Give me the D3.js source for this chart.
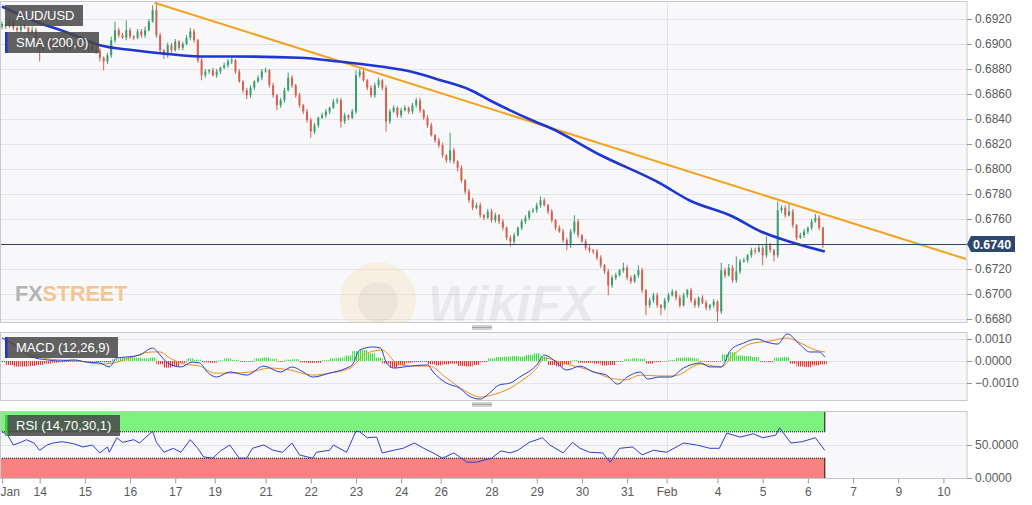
<!DOCTYPE html>
<html>
<head>
<meta charset="utf-8">
<script src="https://cdn.jsdelivr.net/npm/d3@7"></script>
<style>
  body { margin: 0; background: #fff; }
  svg { display: block; font-family: "Liberation Sans", Arial, sans-serif; }
</style>
</head>
<body>
<svg id="chart"></svg>
<script>
// AUD/USD hourly chart, drawn as 2-hour bars (open = previous close)

let firstOpen = 0.6914
let barStep = 2
let closes = [
  0.6916,0.6914,0.6918,0.6913,0.6911,0.6914,0.6913,0.6909,0.6911,0.6905,
  0.6895,0.6899,0.6902,0.6898,0.6900,0.6897,0.6899,0.6895,0.6898,0.6900,
  0.6897,0.6898,0.6895,0.6898,0.6894,0.6895,0.6889,0.6886,0.6891,0.6903,
  0.6911,0.6907,0.6905,0.6911,0.6906,0.6905,0.6910,0.6907,0.6911,0.6918,
  0.6927,0.6907,0.6895,0.6891,0.6899,0.6895,0.6902,0.6897,0.6900,0.6905,
  0.6910,0.6903,0.6887,0.6875,0.6878,0.6879,0.6875,0.6878,0.6881,0.6883,
  0.6886,0.6887,0.6878,0.6870,0.6863,0.6859,0.6865,0.6870,0.6873,0.6878,
  0.6879,0.6867,0.6859,0.6851,0.6855,0.6863,0.6873,0.6867,0.6859,0.6851,
  0.6846,0.6839,0.6830,0.6835,0.6841,0.6843,0.6846,0.6849,0.6854,0.6855,
  0.6838,0.6843,0.6841,0.6846,0.6875,0.6878,0.6871,0.6865,0.6859,0.6867,
  0.6871,0.6865,0.6838,0.6846,0.6849,0.6843,0.6847,0.6849,0.6846,0.6851,
  0.6855,0.6847,0.6841,0.6835,0.6827,0.6823,0.6819,0.6811,0.6807,0.6815,
  0.6806,0.6801,0.6791,0.6782,0.6775,0.6769,0.6771,0.6763,0.6761,0.6766,
  0.6759,0.6763,0.6758,0.6753,0.6745,0.6742,0.6747,0.6753,0.6758,0.6761,
  0.6766,0.6767,0.6771,0.6775,0.6771,0.6766,0.6759,0.6753,0.6750,0.6743,
  0.6739,0.6750,0.6758,0.6747,0.6742,0.6737,0.6735,0.6734,0.6729,0.6723,
  0.6718,0.6707,0.6713,0.6715,0.6719,0.6721,0.6713,0.6710,0.6715,0.6719,
  0.6703,0.6691,0.6695,0.6699,0.6691,0.6689,0.6695,0.6699,0.6702,0.6697,
  0.6691,0.6699,0.6703,0.6695,0.6691,0.6697,0.6693,0.6689,0.6691,0.6694,
  0.6686,0.6719,0.6715,0.6721,0.6711,0.6718,0.6726,0.6727,0.6731,0.6735,
  0.6734,0.6737,0.6731,0.6739,0.6735,0.6731,0.6767,0.6769,0.6763,0.6766,
  0.6755,0.6745,0.6747,0.6750,0.6753,0.6758,0.6761,0.6753,0.6740
]
// wick lengths beyond the body, in pips
let upWick = [
  2,1,3,2,1,2,2,1,3,2, 1,2,2,1,2,2,1,2,2,1, 2,2,1,2,2,1,2,1,2,3,
  7,2,2,8,2,1,2,2,3,2, 4,7,2,1,2,2,2,1,2,2, 3,2,1,2,2,1,2,2,1,2,
  2,2,1,2,1,2,2,1,2,2, 2,1,2,1,2,2,4,2,1,2, 1,2,2,2,1,2,2,1,2,2,
  2,2,1,2,4,2,2,1,2,2, 2,1,2,2,2,1,2,2,1,2, 2,2,1,2,2,1,2,2,1,14,
  2,1,2,1,2,2,2,2,1,2, 2,2,1,2,1,2,2,1,2,2, 1,2,2,3,2,1,2,1,2,2,
  2,2,5,2,1,2,2,1,2,2, 1,2,2,2,1,4,2,2,1,4, 2,1,2,2,2,1,2,2,2,1,
  2,2,1,2,2,1,2,2,1,2, 1,6,2,3,2,12,2,2,1,2, 2,2,2,7,2,1,7,2,2,6,
  2,1,2,2,1,2,3,2,1
]
let dnWick = [
  2,2,1,2,3,2,1,2,2,3, 9,2,1,2,2,1,2,2,1,2, 2,1,2,2,1,2,3,7,2,2,
  2,2,1,2,2,2,1,2,2,1, 1,2,2,3,2,2,1,2,2,1, 2,2,2,4,2,2,1,2,2,1,
  2,2,2,1,2,3,2,2,1,2, 1,2,2,4,2,2,1,2,2,2, 2,2,5,2,2,1,2,2,1,2,
  5,2,2,1,2,2,1,2,2,2, 2,2,8,2,1,2,2,1,2,2, 2,2,2,2,1,2,2,2,2,2,
  2,3,2,2,2,2,1,2,2,1, 2,2,2,2,2,4,2,1,2,2, 2,1,2,2,1,2,2,2,1,2,
  4,2,2,2,1,2,2,2,2,2, 2,8,2,2,1,2,2,2,1,2, 2,8,2,2,2,6,2,2,1,2,
  2,1,2,2,2,2,1,2,2,2, 8,2,2,1,2,2,2,1,2,2, 2,1,8,2,2,5,2,2,2,1,
  2,2,1,2,2,2,1,2,3
]

// [hour index, value]
let smaPoints = [[0,0.6930],[16,0.6919],[35,0.6909],[52,0.6899],[70,0.6895],[88,0.6892],
  [105,0.6890],[123,0.6890],[158,0.6889],[179,0.6886],[201,0.6882],[217,0.6878],[233,0.6871],
  [249,0.6863],[259,0.6855],[283,0.6838],[291,0.6833],[318,0.6811],[349,0.6789],[365,0.6775],
  [388,0.6762],[403,0.6750],[418,0.6742],[437,0.6734]]
let trendPoints = [[81,0.6933],[512,0.6728]]
let lastPrice = 0.6740

let macdLine = [[0,0.00105],[4,0.00086],[10,0.0005],[16,0.00018],[24,0.00005],[31,0],[38,0.00005],
  [45,-0.00005],[52,-0.00009],[57,-0.00027],[61,0.00014],[66,0.00018],[73,0.00027],[80,0.00059],
  [84,0.00027],[88,-0.00009],[95,-0.00027],[101,-0.00005],[105,-0.00009],[109,-0.0005],[114,-0.00073],
  [121,-0.0005],[130,-0.00064],[139,-0.00023],[148,-0.0005],[154,-0.00027],[160,-0.0005],[165,-0.00073],
  [174,-0.00055],[183,-0.00032],[186,-0.00018],[190,0.0005],[197,0.00064],[201,0.00059],[204,-0.00005],
  [208,-0.00032],[217,-0.00023],[226,-0.00018],[229,-0.0005],[236,-0.001],[243,-0.00123],[249,-0.00164],
  [254,-0.00173],[259,-0.00145],[264,-0.00109],[270,-0.001],[275,-0.00073],[284,-0.00018],[288,0.00027],
  [293,0.00005],[300,-0.00041],[307,-0.00023],[314,-0.0005],[321,-0.00064],[327,-0.00105],[332,-0.00073],
  [339,-0.0005],[343,-0.00082],[349,-0.00073],[355,-0.00073],[362,-0.00032],[371,-0.00009],[376,-0.00027],
  [382,-0.00027],[387,0.0005],[394,0.00082],[401,0.001],[406,0.00086],[412,0.00077],[417,0.00123],
  [424,0.00073],[429,0.00041],[434,0.00041],[437,0.00018]]
let signalLine = [[0,0.00105],[7,0.00073],[15,0.00032],[25,0.00009],[41,0],[52,-0.00014],[59,-0.00009],
  [68,0.00014],[79,0.00041],[84,0.00041],[89,0.00014],[97,-0.00014],[105,-0.00023],[113,-0.00055],
  [121,-0.00055],[132,-0.0005],[142,-0.00032],[153,-0.00041],[165,-0.00064],[174,-0.00055],[185,-0.00032],
  [193,0.00032],[202,0.0005],[209,-0.00005],[217,-0.00023],[227,-0.00023],[236,-0.00077],[246,-0.00136],
  [254,-0.00164],[262,-0.0015],[270,-0.00123],[275,-0.00095],[284,-0.00032],[288,0.00014],[296,-0.00005],
  [304,-0.00023],[312,-0.00041],[323,-0.00077],[331,-0.00086],[339,-0.00064],[349,-0.00068],[357,-0.00068],
  [371,-0.00014],[382,-0.00027],[389,0.00032],[397,0.00077],[408,0.00091],[417,0.00105],[424,0.00082],
  [432,0.0005],[437,0.00041]]
let histStep = 4
let histValues = [
  -0.00005,-0.00018,-0.00025,-0.00025,-0.00022,-0.00018,-0.00012,-0.00008,-0.00005,-0.00004,
  -0.00003,-0.00004,-0.00003,-0.00005,-0.00006,0.00008,0.00015,0.00018,0.00015,0.00012,
  0.00016,-0.00015,-0.0003,-0.00025,-0.00008,0.00012,0.00006,-0.00006,-0.00008,0.00003,
  0.00012,0.00005,-0.00004,-0.00003,0.00012,0.00016,0.0001,-0.00004,0.00006,0.00008,
  -0.00006,-0.00009,-0.00008,0.00004,0.00012,0.00015,0.00025,0.00045,0.0005,0.00035,
  0.00015,-0.00012,-0.0003,-0.0002,-0.00008,-0.00005,-0.00004,-0.00015,-0.0002,-0.00015,
  -0.00012,-0.00022,-0.00025,-0.00018,-0.00005,0.00012,0.00018,0.0002,0.00022,0.0002,
  0.00028,0.00035,0.0002,-0.00018,-0.00025,-0.00015,0.00004,-0.00008,-0.00008,-0.00012,
  -0.0002,-0.00018,-0.00003,0.00008,0.00012,0.0001,-0.00012,-0.00005,-0.00002,0.00005,
  0.00014,0.00016,0.00012,-0.00003,-0.00004,-0.00003,0.0003,0.0004,0.00025,0.00022,
  0.00018,-0.00004,-0.00005,0.00015,0.00018,-0.00012,-0.00025,-0.00028,-0.0002,-0.00015
]
let rsiLine = [[0,70],[3,65],[6,50],[10,54],[13,58],[17,53],[20,42],[24,50],[27,53],[32,55],[38,52],
  [43,47],[48,50],[52,38],[56,47],[57,39],[61,61],[64,54],[70,58],[73,53],[80,71],[82,54],[86,39],
  [91,45],[95,39],[100,58],[104,45],[107,32],[112,30],[116,41],[121,50],[126,30],[130,30],[133,45],
  [139,50],[144,42],[149,39],[154,53],[158,35],[162,32],[165,30],[167,39],[174,42],[176,50],[183,39],
  [188,71],[190,70],[194,61],[199,62],[202,38],[208,42],[213,45],[219,53],[224,45],[229,38],[234,30],
  [240,38],[247,24],[252,24],[260,30],[265,41],[270,38],[274,42],[280,54],[287,61],[291,50],[298,38],
  [303,54],[307,45],[312,39],[319,38],[323,24],[328,45],[335,47],[340,35],[346,42],[353,39],[362,53],
  [369,50],[376,45],[381,45],[385,68],[392,62],[399,67],[404,61],[411,65],[413,76],[419,53],[425,55],
  [432,61],[437,42]]

let dayLabels = ["Jan","14","15","16","17","19","21","22","23","24","26","28","29","30","31","Feb","4","5","6","7","9","10"]
let dayIndex = [0,20,44,68,92,113,140,164,188,212,233,260,284,308,332,353,380,404,428,452,476,500]
let febIndex = 353
let priceTicks = [0.6680,0.6700,0.6720,0.6740,0.6760,0.6780,0.6800,0.6820,0.6840,0.6860,0.6880,0.6900,0.6920]
let macdTicks = [0.001, 0, -0.001]
let rsiTicks = [50, 0]
let rsiUpper = 70
let rsiLower = 30

let width = 1032
let height = 505
let plotRight = 967
let pip = 0.0001
let dataEnd = 437

let main = { top: 1.5, bottom: 322.5 }
let macdPanel = { top: 332.5, bottom: 400.5 }
let rsiPanel = { top: 411.5, bottom: 478.5 }

let svg = d3.select("#chart").attr("width", width).attr("height", height)
let defs = svg.append("defs")

let xScale = d3.scaleLinear().domain([0, 512]).range([2, 966])
let yPrice = d3.scaleLinear().domain([0.6680, 0.6920]).range([319, 19])
let yMacd = d3.scaleLinear().domain([-0.001, 0.001]).range([383, 339])
let yRsi = d3.scaleLinear().domain([0, 100]).range([478, 412])

let drawPanel = (panel, id, ticks, yScale) => {
  defs.append("clipPath").attr("id", id)
      .append("rect").attr("x", 0).attr("y", panel.top)
      .attr("width", plotRight).attr("height", panel.bottom - panel.top)
  svg.append("rect")
     .attr("x", 0.5).attr("y", panel.top)
     .attr("width", plotRight - 0.5).attr("height", panel.bottom - panel.top)
     .attr("fill", "#f8f8fa")
  let g = svg.append("g").attr("clip-path", "url(#" + id + ")")
  g.selectAll("line.grid").data(ticks).enter().append("line")
   .attr("class", "grid")
   .attr("x1", 0).attr("x2", plotRight)
   .attr("y1", d => Math.round(yScale(d)) + 0.5).attr("y2", d => Math.round(yScale(d)) + 0.5)
   .attr("stroke", "#e4e4e8")
  g.append("line")
   .attr("x1", Math.round(xScale(febIndex)) + 0.5).attr("x2", Math.round(xScale(febIndex)) + 0.5)
   .attr("y1", panel.top).attr("y2", panel.bottom)
   .attr("stroke", "#e4e4e8")
  return g
}

let drawFrame = (panel) => {
  svg.append("rect")
     .attr("x", 0.5).attr("y", panel.top)
     .attr("width", plotRight - 0.5).attr("height", panel.bottom - panel.top)
     .attr("fill", "none").attr("stroke", "#c8c8d2")
}

// hidden: tick whose text is covered by the last-price box
let drawYAxis = (ticks, yScale, hidden) => {
  let axis = d3.axisRight(yScale).tickValues(ticks).tickSize(5).tickPadding(3)
               .tickFormat(d3.format(".4f"))
  let g = svg.append("g").attr("transform", "translate(" + plotRight + ",0)").call(axis)
  g.select(".domain").remove()
  g.selectAll("line").attr("stroke", "#9a9a9a")
  g.selectAll("text").attr("fill", "#5a5a5a").style("font-size", "12px")
   .style("font-family", "Liberation Sans, Arial, sans-serif")
  if (hidden !== undefined) g.selectAll("text").filter(d => d === hidden).remove()
}

let addLabel = (x, y, w, text, barColor) => {
  svg.append("rect").attr("x", x).attr("y", y).attr("width", w).attr("height", 21)
     .attr("fill", "rgb(72,72,72)").attr("fill-opacity", 0.86)
  if (barColor) {
    svg.append("rect").attr("x", x).attr("y", y).attr("width", 2.5).attr("height", 21)
       .attr("fill", barColor)
  }
  svg.append("text").attr("x", x + 11).attr("y", y + 15)
     .attr("fill", "#fff").style("font-size", "13px").text(text)
}

let drawHandle = (cy) => {
  [-1.5, 0, 1.5].forEach(dy => {
    svg.append("line").attr("x1", 472).attr("x2", 492)
       .attr("y1", cy + dy).attr("y2", cy + dy)
       .attr("stroke", "#8a8a8a").attr("stroke-width", 0.8)
  })
}

// ---------- main price panel ----------
let drawMain = () => {
  let g = drawPanel(main, "clipMain", priceTicks, yPrice)

  // watermarks
  g.append("circle").attr("cx", 378).attr("cy", 300).attr("r", 38)
   .attr("fill", "#f3d9a6").attr("fill-opacity", 0.28)
  g.append("circle").attr("cx", 378).attr("cy", 302).attr("r", 20)
   .attr("fill", "#9a9aa0").attr("fill-opacity", 0.12)
  g.append("text").attr("x", 428).attr("y", 321)
   .style("font-size", "50px").style("font-weight", "bold").style("font-style", "italic")
   .attr("fill", "#000").attr("fill-opacity", 0.06).text("WikiFX")
  let brand = g.append("text").attr("x", 15).attr("y", 301)
               .style("font-size", "21.5px").style("font-weight", "bold")
  brand.append("tspan").attr("fill", "#b4b4b4").text("FX")
  brand.append("tspan").attr("fill", "#f2c690").text("STREET")

  let bars = closes.map((c, j) => {
    let o = j ? closes[j - 1] : firstOpen
    return {
      i: j * barStep, o: o, c: c,
      h: Math.max(o, c) + upWick[j] * pip,
      l: Math.min(o, c) - dnWick[j] * pip
    }
  })
  let barColor = d => d.c > d.o ? "#3a9d6f" : (d.c < d.o ? "#d4604f" : "#222")

  g.selectAll("line.wick").data(bars).enter().append("line")
   .attr("class", "wick")
   .attr("x1", d => xScale(d.i)).attr("x2", d => xScale(d.i))
   .attr("y1", d => yPrice(d.h)).attr("y2", d => yPrice(d.l))
   .attr("stroke", barColor).attr("stroke-width", 1)
  g.selectAll("rect.body").data(bars).enter().append("rect")
   .attr("class", "body")
   .attr("x", d => xScale(d.i) - 1).attr("width", 2)
   .attr("y", d => yPrice(Math.max(d.o, d.c)))
   .attr("height", d => Math.max(1, Math.abs(yPrice(d.o) - yPrice(d.c))))
   .attr("fill", barColor)

  let line = d3.line().x(d => xScale(d[0])).y(d => yPrice(d[1]))
  g.append("path").datum(trendPoints).attr("d", line)
   .attr("fill", "none").attr("stroke", "#f6a21e").attr("stroke-width", 2)
  g.append("path").datum(smaPoints).attr("d", line.curve(d3.curveMonotoneX))
   .attr("fill", "none").attr("stroke", "#1f36d4").attr("stroke-width", 2.6)

  g.append("line").attr("x1", 0).attr("x2", plotRight)
   .attr("y1", Math.round(yPrice(lastPrice)) + 0.5).attr("y2", Math.round(yPrice(lastPrice)) + 0.5)
   .attr("stroke", "#2c4770").attr("stroke-width", 1)

  drawFrame(main)
  drawYAxis(priceTicks, yPrice, lastPrice)

  let ly = yPrice(lastPrice)
  svg.append("path")
     .attr("d", "M" + plotRight + "," + ly + " L" + (plotRight + 4) + "," + (ly - 8) +
                " L1015," + (ly - 8) + " L1015," + (ly + 8) + " L" + (plotRight + 4) + "," + (ly + 8) + "Z")
     .attr("fill", "#2c4770")
  svg.append("text").attr("x", 992).attr("y", ly + 4.5).attr("text-anchor", "middle")
     .attr("fill", "#fff").style("font-size", "12.5px").style("font-weight", "bold")
     .text(d3.format(".4f")(lastPrice))

  addLabel(5, 5, 78, "AUD/USD", null)
  addLabel(5, 32, 94, "SMA (200,0)", "#1f36d4")
}

// ---------- MACD panel ----------
let drawMacd = () => {
  [["histUp", "#33e433"], ["histDown", "#ee3030"]].forEach(([id, col]) => {
    defs.append("pattern").attr("id", id).attr("width", 2).attr("height", 4)
        .attr("patternUnits", "userSpaceOnUse")
        .append("rect").attr("width", 1.1).attr("height", 4).attr("fill", col)
  })
  let g = drawPanel(macdPanel, "clipMacd", macdTicks, yMacd)
  let hw = xScale(histStep) - xScale(0)
  g.selectAll("rect.hist").data(histValues).enter().append("rect")
   .attr("class", "hist")
   .attr("x", (d, k) => xScale(k * histStep) - hw / 2).attr("width", hw)
   .attr("y", d => Math.min(yMacd(d), yMacd(0)))
   .attr("height", d => Math.abs(yMacd(d) - yMacd(0)))
   .attr("fill", d => d >= 0 ? "url(#histUp)" : "url(#histDown)")
  let line = d3.line().x(d => xScale(d[0])).y(d => yMacd(d[1])).curve(d3.curveMonotoneX)
  g.append("path").datum(signalLine).attr("d", line)
   .attr("fill", "none").attr("stroke", "#f28a1c").attr("stroke-width", 1)
  g.append("path").datum(macdLine).attr("d", line)
   .attr("fill", "none").attr("stroke", "#2440e0").attr("stroke-width", 1)
  drawFrame(macdPanel)
  drawYAxis(macdTicks, yMacd)
  addLabel(5, 337, 113, "MACD (12,26,9)", "#1f36d4")
}

// ---------- RSI panel ----------
let drawRsi = () => {
  let g = drawPanel(rsiPanel, "clipRsi", [50], yRsi)
  let x0 = xScale(0) - 2
  let x1 = xScale(dataEnd)
  g.append("rect").attr("x", x0).attr("y", yRsi(100)).attr("width", x1 - x0)
   .attr("height", yRsi(rsiUpper) - yRsi(100)).attr("fill", "#7ef27e")
  g.append("rect").attr("x", x0).attr("y", yRsi(rsiLower)).attr("width", x1 - x0)
   .attr("height", yRsi(0) - yRsi(rsiLower)).attr("fill", "#f78282")
  ;[rsiUpper, rsiLower].forEach(v => {
    g.append("line").attr("x1", x0).attr("x2", x1)
     .attr("y1", yRsi(v)).attr("y2", yRsi(v))
     .attr("stroke", "#111").attr("stroke-dasharray", "1,1")
  })
  g.append("line").attr("x1", x1).attr("x2", x1).attr("y1", yRsi(100)).attr("y2", yRsi(rsiUpper))
   .attr("stroke", "#111")
  g.append("line").attr("x1", x1).attr("x2", x1).attr("y1", yRsi(rsiLower)).attr("y2", yRsi(0))
   .attr("stroke", "#111")
  let line = d3.line().x(d => xScale(d[0])).y(d => yRsi(d[1]))
  g.append("path").datum(rsiLine).attr("d", line)
   .attr("fill", "none").attr("stroke", "#2a40d8").attr("stroke-width", 1)
  drawFrame(rsiPanel)
  drawYAxis(rsiTicks, yRsi)
  addLabel(5, 415, 115, "RSI (14,70,30,1)", "#3fd13f")
}

let drawXAxis = () => {
  let axis = d3.axisBottom(xScale).tickValues(dayIndex).tickSize(5).tickPadding(4)
               .tickFormat((d, i) => dayLabels[i])
  let g = svg.append("g").attr("transform", "translate(0," + rsiPanel.bottom + ")").call(axis)
  g.select(".domain").remove()
  g.selectAll("line").attr("stroke", "#9a9a9a")
  g.selectAll("text").attr("fill", "#5a5a5a").style("font-size", "12px")
   .style("font-family", "Liberation Sans, Arial, sans-serif")
  g.selectAll("text").filter((d, i) => i === 0).attr("text-anchor", "start").attr("x", -2)
}

drawMain()
drawMacd()
drawRsi()
drawXAxis()
drawHandle(327.5)
drawHandle(404.5)
</script>
</body>
</html>
